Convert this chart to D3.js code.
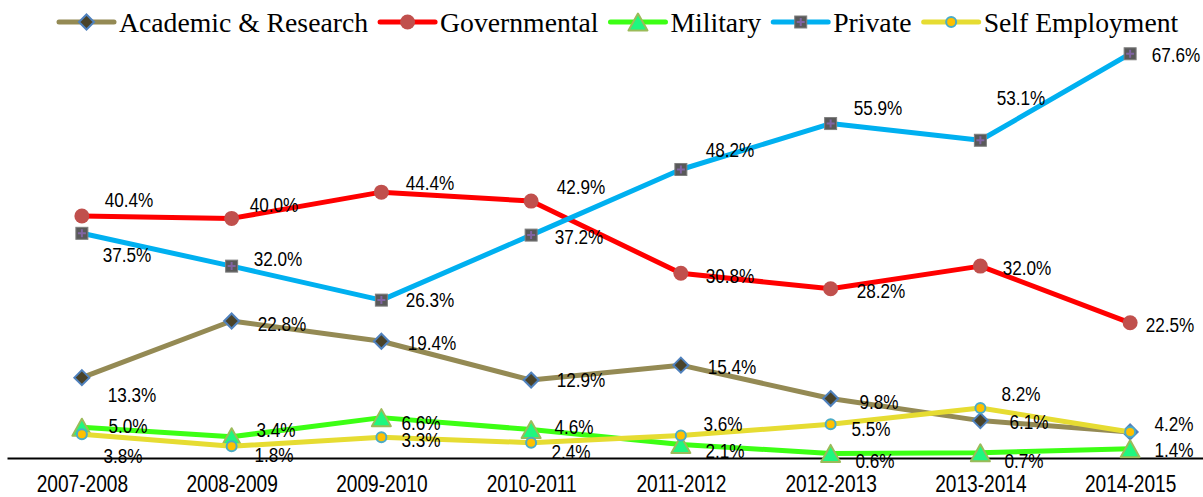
<!DOCTYPE html>
<html>
<head>
<meta charset="utf-8">
<script src="https://cdn.jsdelivr.net/npm/d3@7"></script>
<style>
  body { margin: 0; background: #fff; }
  svg { display: block; }
</style>
</head>
<body>
<svg id="chart"></svg>
<script>
// data
const years = ['2007-2008', '2008-2009', '2009-2010', '2010-2011', '2011-2012', '2012-2013', '2013-2014', '2014-2015'];
const seriesNames = ['Academic & Research', 'Governmental', 'Military', 'Private', 'Self Employment'];
const academic = [13.3, 22.8, 19.4, 12.9, 15.4, 9.8, 6.1, 4.2];
const governmental = [40.4, 40.0, 44.4, 42.9, 30.8, 28.2, 32.0, 22.5];
const military = [5.0, 3.4, 6.6, 4.6, 2.1, 0.6, 0.7, 1.4];
const privateSector = [37.5, 32.0, 26.3, 37.2, 48.2, 55.9, 53.1, 67.6];
const selfEmployment = [3.8, 1.8, 3.3, 2.4, 3.6, 5.5, 8.2, 4.2];

// where each data label sits relative to its point (dx, dy)
const labelOffsets = [
  [[50, 17], [50, 3], [51, 2], [50, 0], [51, 2], [48, 3], [49, 1], [44, -8]],
  [[47, -16], [42, -13], [49, -9], [50, -14], [49, 3], [50, 2], [47, 2], [40, 2]],
  [[46, -1], [44, -7], [40, 5], [43, -3], [44, 7], [44, 8], [44, 8], [44, 1]],
  [[45, 22], [46, -7], [49, 0], [48, 2], [49, -19], [47, -16], [41, -42], [46, 1]],
  [[41, 22], [42, 9], [40, 3], [40, 9], [42, -12], [40, 5], [41, -14], [44, -8]]
];

class LineChart {

    constructor(_config, _series) {
        this.config = {
            parentElement: _config.parentElement,
            containerWidth: _config.containerWidth || 1203,
            containerHeight: _config.containerHeight || 497,
            axisY: 458
        }
        this.series = _series;
        this.initVis();
    }

    initVis() {
        let vis = this;

        vis.svg = d3.select(vis.config.parentElement)
            .attr('width', vis.config.containerWidth)
            .attr('height', vis.config.containerHeight);

        vis.xScale = d3.scalePoint()
            .domain(years)
            .range([7, 1205])
            .padding(0.5);

        vis.yScale = d3.scaleLinear()
            .domain([0, 70])
            .range([457, 457 - 70 * 5.965]);

        vis.xAxis = d3.axisBottom(vis.xScale)
            .tickSize(0)
            .tickSizeOuter(0);

        vis.xAxisG = vis.svg.append('g')
            .attr('class', 'x-axis')
            .attr('transform', `translate(0,${vis.config.axisY})`);

        vis.line = d3.line()
            .x((d, i) => vis.xScale(years[i]))
            .y(d => vis.yScale(d));

        vis.renderVis();
        vis.renderLegend();
    }

    marker(sel, type) {
        if (type === 'diamond') {
            sel.append('path')
                .attr('d', 'M0,-7.5L7.5,0L0,7.5L-7.5,0Z')
                .attr('fill', '#4a4329')
                .attr('stroke', '#4f81bd')
                .attr('stroke-width', 2);
        } else if (type === 'circle') {
            sel.append('circle')
                .attr('r', 7.5)
                .attr('fill', '#c0504d');
        } else if (type === 'triangle') {
            sel.append('path')
                .attr('d', 'M0,-8.5L9.5,8.5L-9.5,8.5Z')
                .attr('fill', '#1ff77f')
                .attr('stroke', '#9bbb59')
                .attr('stroke-width', 2)
                .attr('stroke-linejoin', 'round');
        } else if (type === 'square') {
            sel.append('rect')
                .attr('x', -6).attr('y', -6)
                .attr('width', 12).attr('height', 12)
                .attr('fill', '#595959')
                .attr('stroke', '#7f7f7f')
                .attr('stroke-width', 1);
            sel.append('path')
                .attr('d', 'M-4,0H4M0,-4V4')
                .attr('stroke', '#8064a2')
                .attr('stroke-width', 2);
        } else if (type === 'dot') {
            sel.append('circle')
                .attr('r', 5)
                .attr('fill', '#ffc000')
                .attr('stroke', '#4bacc6')
                .attr('stroke-width', 2);
        }
    }

    renderVis() {
        let vis = this;

        vis.xAxisG.call(vis.xAxis)
            .call(g => g.select('.domain')
                .attr('stroke', '#000')
                .attr('stroke-width', 2));

        vis.xAxisG.selectAll('.tick text')
            .attr('y', 34.5)
            .attr('dy', 0)
            .attr('fill', '#000')
            .attr('transform', 'scale(0.78,1)')
            .style('font-family', '"Liberation Sans", Arial, sans-serif')
            .style('font-size', '24.5px');

        vis.series.forEach(s => {
            let g = vis.svg.append('g').attr('class', 'series');

            g.append('path')
                .datum(s.values)
                .attr('d', vis.line)
                .attr('fill', 'none')
                .attr('stroke', s.color)
                .attr('stroke-width', 5)
                .attr('stroke-linejoin', 'round')
                .attr('stroke-linecap', 'round');

            s.values.forEach((v, i) => {
                let m = g.append('g')
                    .attr('transform', `translate(${vis.xScale(years[i])},${vis.yScale(v)})`);
                vis.marker(m, s.marker);
            });
        });

        // data labels on top of everything; two labels landing on the same spot are drawn once
        let seen = new Set();
        let labels = [];
        vis.series.forEach((s, si) => {
            s.values.forEach((v, i) => {
                let o = labelOffsets[si][i];
                let x = Math.round(vis.xScale(years[i]) + o[0]);
                let y = Math.round(vis.yScale(v) + o[1]);
                let text = v.toFixed(1) + '%';
                let key = `${x},${y},${text}`;
                if (seen.has(key)) return;
                seen.add(key);
                labels.push({x, y, text});
            });
        });

        vis.svg.append('g')
            .attr('class', 'labels')
            .selectAll('g')
            .data(labels)
            .join('g')
            .attr('transform', d => `translate(${d.x},${d.y})`)
            .append('text')
            .attr('transform', 'scale(0.88,1)')
            .attr('text-anchor', 'middle')
            .attr('dy', '0.36em')
            .style('font-family', '"Liberation Sans", Arial, sans-serif')
            .style('font-size', '19.5px')
            .attr('fill', '#000')
            .text(d => d.text);
    }

    renderLegend() {
        let vis = this;
        let legend = vis.svg.append('g').attr('class', 'legend');
        let x = 59;

        vis.series.forEach(s => {
            let item = legend.append('g')
                .attr('transform', `translate(${x},22)`);

            item.append('line')
                .attr('x1', 0).attr('x2', 55)
                .attr('stroke', s.color)
                .attr('stroke-width', 5)
                .attr('stroke-linecap', 'round');

            let m = item.append('g').attr('transform', 'translate(27.5,0)');
            vis.marker(m, s.marker);

            let t = item.append('text')
                .attr('x', 60)
                .attr('y', 9.5)
                .style('font-family', '"Liberation Serif", "Times New Roman", serif')
                .style('font-size', '27.7px')
                .attr('fill', '#000')
                .text(s.name);

            x += 60 + t.node().getComputedTextLength() + 12;
        });
    }
}

const series = [
    {name: seriesNames[0], values: academic, color: '#948a54', marker: 'diamond'},
    {name: seriesNames[1], values: governmental, color: '#ff0000', marker: 'circle'},
    {name: seriesNames[2], values: military, color: '#3cff14', marker: 'triangle'},
    {name: seriesNames[3], values: privateSector, color: '#00b0f0', marker: 'square'},
    {name: seriesNames[4], values: selfEmployment, color: '#e6dc32', marker: 'dot'}
];

new LineChart({parentElement: '#chart'}, series);
</script>
</body>
</html>
